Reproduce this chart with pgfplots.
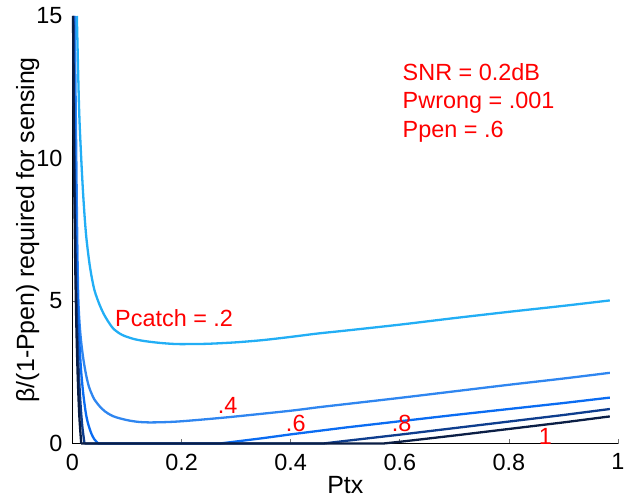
\documentclass[border=0pt]{standalone}
\usepackage{fontspec}
\setmainfont{Liberation Sans}
\usepackage{pgfplots}
\pgfplotsset{compat=1.18}
\definecolor{cA}{HTML}{22AEF5}
\definecolor{cB}{HTML}{2F86F0}
\definecolor{cC}{HTML}{0A6CF2}
\definecolor{cD}{HTML}{0E3D8E}
\definecolor{cE}{HTML}{0B1E45}
\begin{document}
\begin{tikzpicture}[font=\fontsize{23.5}{28}\selectfont]
\begin{axis}[
  scale only axis, width=545.5bp, height=427.5bp,
  xmin=0, xmax=1, ymin=0, ymax=15,
  axis lines*=left,
  axis line style={black, line width=0.6bp},
  xtick={0,0.2,0.4,0.6,0.8,1},
  xticklabels={0,0.2,0.4,0.6,0.8,1},
  ytick={0,5,10,15},
  tick align=inside, major tick length=4.5bp,
  tick style={black!55, line width=0.8bp},
  /pgf/number format/assume math mode=true,
  tick label style={font=\fontsize{23.5}{28}\selectfont},
  label style={font=\fontsize{25}{30}\selectfont},
  xticklabel style={inner sep=0pt, anchor=north, yshift=-10bp},
  yticklabel style={inner sep=0pt, anchor=east, xshift=-10bp},
  xlabel={Ptx},
  xlabel style={at={(axis description cs:0.5,-0.1158)}, anchor=base, inner sep=0pt},
  ylabel={β/(1-Ppen) required for sensing},
  ylabel style={at={(axis description cs:-0.0605,0.5)}, anchor=south, inner sep=0pt},
  clip=false,
  every axis plot/.append style={line width=2.3bp, line join=round},
]
\addplot[cA, smooth, tension=0.5] coordinates {(0.008,15) (0.012,11.8) (0.016,10) (0.02,8.6) (0.025,7.3) (0.032,6.2) (0.04,5.4) (0.05,4.85) (0.06,4.45) (0.074,4.05) (0.09,3.82) (0.11,3.68) (0.13,3.6) (0.16,3.53) (0.19,3.49) (0.22,3.49) (0.25,3.5) (0.3,3.55) (0.35,3.63) (0.4,3.74) (0.45,3.86) (0.5,3.96) (0.6,4.17) (0.7,4.4) (0.8,4.62) (0.9,4.83) (0.985,5.02)};
\addplot[cB, smooth, tension=0.5] coordinates {(0.004,15) (0.0055,12.5) (0.007,10) (0.0085,7.5) (0.0105,5.2) (0.013,4.2) (0.016,3.55) (0.02,2.95) (0.025,2.4) (0.03,2.0) (0.035,1.75) (0.04,1.55) (0.05,1.3) (0.06,1.12) (0.07,1.0) (0.08,0.92) (0.1,0.82) (0.12,0.76) (0.14,0.74) (0.17,0.75) (0.2,0.78) (0.25,0.86) (0.3,0.95) (0.4,1.15) (0.45,1.27) (0.5,1.38) (0.6,1.6) (0.7,1.83) (0.8,2.06) (0.9,2.28) (0.985,2.48)};
\addplot[cC, smooth, tension=0.5] coordinates {(0.002,15) (0.0035,12) (0.005,9.5) (0.007,7.2) (0.009,5.5) (0.011,4.3) (0.013,3.4) (0.016,2.5) (0.02,1.7) (0.025,1.0) (0.03,0.6) (0.035,0.33) (0.04,0.15) (0.047,0)};
\addplot[cC] coordinates {(0.047,0) (0.27,0) (0.3,0.07) (0.35,0.19) (0.4,0.32) (0.45,0.44) (0.5,0.56) (0.6,0.78) (0.7,1.0) (0.8,1.21) (0.9,1.42) (0.985,1.61)};
\addplot[cD, smooth, tension=0.5] coordinates {(0.0015,15) (0.0025,12) (0.004,9) (0.006,6.3) (0.008,4.5) (0.01,3.2) (0.012,2.3) (0.015,1.3) (0.018,0.6) (0.022,0)};
\addplot[cD] coordinates {(0.022,0) (0.46,0) (0.5,0.09) (0.55,0.2) (0.6,0.31) (0.7,0.54) (0.8,0.77) (0.9,1.0) (0.985,1.21)};
\addplot[cE, smooth, tension=0.5] coordinates {(0.001,15) (0.002,12) (0.003,9.5) (0.005,6.3) (0.007,4.2) (0.009,2.7) (0.011,1.6) (0.013,0.8) (0.016,0)};
\addplot[cE] coordinates {(0.016,0) (0.57,0) (0.6,0.06) (0.65,0.17) (0.7,0.28) (0.8,0.51) (0.9,0.74) (0.985,0.95)};
\node[anchor=base west, text=red, inner sep=0pt] at (axis cs:0.605,12.73) {SNR = 0.2dB};
\node[anchor=base west, text=red, inner sep=0pt] at (axis cs:0.605,11.76) {Pwrong = .001};
\node[anchor=base west, text=red, inner sep=0pt] at (axis cs:0.605,10.75) {Ppen = .6};
\node[anchor=base west, text=red, inner sep=0pt] at (axis cs:0.078,4.11) {Pcatch = .2};
\node[anchor=base west, text=red, inner sep=0pt] at (axis cs:0.266,1.04) {.4};
\node[anchor=base west, text=red, inner sep=0pt] at (axis cs:0.391,0.415) {.6};
\node[anchor=base west, text=red, inner sep=0pt] at (axis cs:0.585,0.415) {.8};
\node[anchor=base, text=red, inner sep=0pt] at (axis cs:0.867,-0.05) {1};
\end{axis}
\pgfresetboundingbox
\path[use as bounding box] (current axis.south west) ++(-72.5bp,-54.5bp) rectangle ++(641bp,498bp);
\end{tikzpicture}
\end{document}
